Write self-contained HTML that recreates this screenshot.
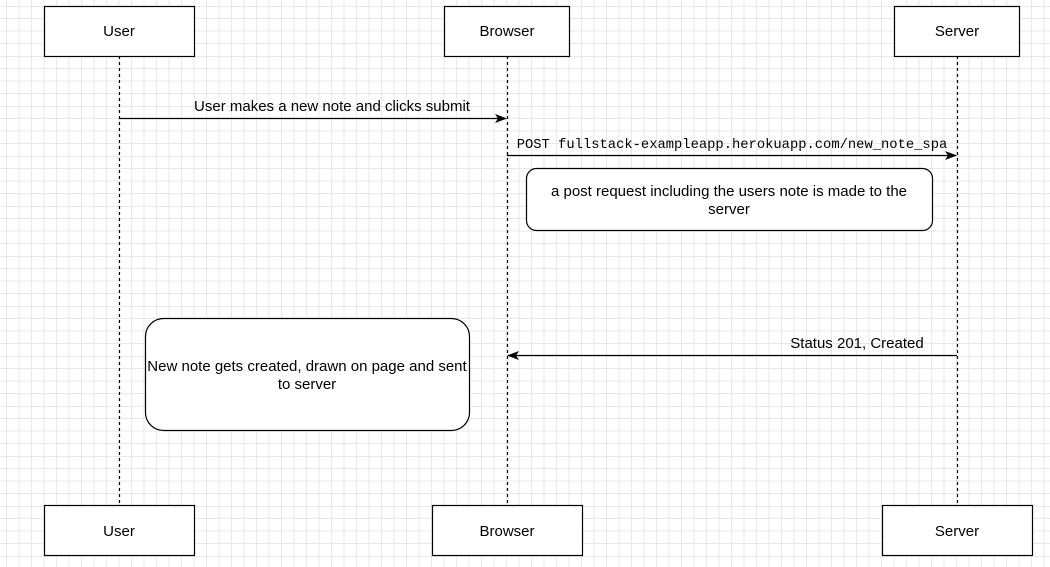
<!DOCTYPE html>
<html><head><style>
body{margin:0;background:#fff}
svg{display:block}
text{font-family:"Liberation Sans",sans-serif;font-size:15px;fill:#000}
</style></head><body>
<svg width="1050" height="567" viewBox="0 0 1050 567" xmlns="http://www.w3.org/2000/svg">
<defs>
<pattern id="g" x="6.5" y="6" width="50" height="50" patternUnits="userSpaceOnUse">
<path d="M12.5 0V50M25 0V50M37.5 0V50M0 12.5H50M0 25H50M0 37.5H50" stroke="#e8e8e8" stroke-width="1" fill="none"/>
<path d="M0 0V50M0 0H50" stroke="#d6d6d6" stroke-width="1" fill="none"/>
</pattern>
<marker id="a" markerWidth="12" markerHeight="12" refX="11" refY="6" orient="auto" markerUnits="userSpaceOnUse">
<path d="M0 1.5L12 6L0 10.5L3 6Z" fill="#000"/>
</marker>
</defs>
<rect width="1050" height="567" fill="url(#g)"/>
<g stroke="#000" stroke-dasharray="3 3" stroke-width="1.2">
<line x1="119.5" y1="56" x2="119.5" y2="505"/>
<line x1="507.5" y1="56" x2="507.5" y2="505"/>
<line x1="957.5" y1="56" x2="957.5" y2="505"/>
</g>
<g fill="#fff" stroke="#000" stroke-width="1.2">
<rect x="44.5" y="6.5" width="150" height="50"/>
<rect x="444.5" y="6.5" width="125" height="50"/>
<rect x="894.5" y="6.5" width="125" height="50"/>
<rect x="44.5" y="505.5" width="150" height="50"/>
<rect x="432.5" y="505.5" width="150" height="50"/>
<rect x="882.5" y="505.5" width="150" height="50"/>
<rect x="526.5" y="168.5" width="406" height="62" rx="10"/>
<rect x="145.5" y="318.5" width="324" height="112" rx="18"/>
</g>
<g text-anchor="middle">
<text x="119" y="36">User</text>
<text x="507" y="36">Browser</text>
<text x="957" y="36">Server</text>
<text x="119" y="536">User</text>
<text x="507" y="536">Browser</text>
<text x="957" y="536">Server</text>
<text x="332" y="111">User makes a new note and clicks submit</text>
<text x="729" y="196">a post request including the users note is made to the</text>
<text x="729" y="214">server</text>
<text x="307" y="371">New note gets created, drawn on page and sent</text>
<text x="307" y="389">to server</text>
<text x="857" y="348">Status 201, Created</text>
<text x="732" y="148" style="font-family:'Liberation Mono',monospace;font-size:13.8px">POST fullstack-exampleapp.herokuapp.com/new_note_spa</text>
</g>
<g stroke="#000" stroke-width="1.2" marker-end="url(#a)">
<line x1="119" y1="118.5" x2="506" y2="118.5"/>
<line x1="507" y1="155.5" x2="956" y2="155.5"/>
<line x1="957" y1="355.5" x2="508" y2="355.5"/>
</g>
</svg>
</body></html>
